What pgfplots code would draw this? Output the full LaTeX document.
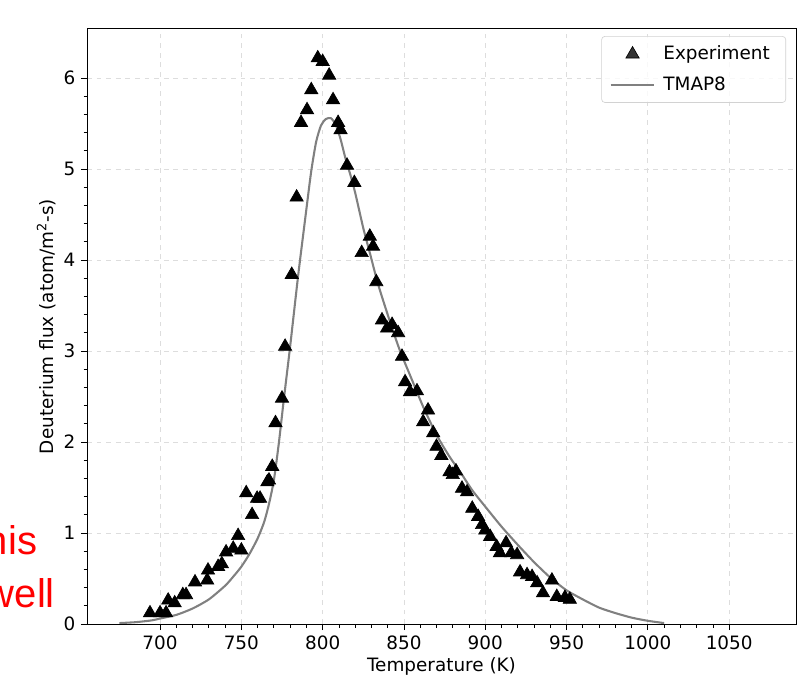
\documentclass[border=0pt]{standalone}
\usepackage{pgfplots}
\pgfplotsset{compat=1.18}
\usepackage{fontspec}
\setmainfont{DejaVu Sans}
\newfontfamily\arialfont{Liberation Sans}
\definecolor{gridgray}{HTML}{DDDDDD}
\definecolor{curvegray}{HTML}{808080}
\begin{document}
\begin{tikzpicture}
\path[use as bounding box] (0,0) rectangle (501.25pt,428.1pt);
\node[anchor=base west, inner sep=0, text=red, font=\arialfont\fontsize{25}{28}\selectfont] at (-9pt,81.25pt) {his};
\node[anchor=base west, inner sep=0, text=red, font=\arialfont\fontsize{25}{28}\selectfont] at (-9pt,48.1pt) {well};
\begin{axis}[
  at={(54.4pt,38.1pt)}, anchor=south west,
  width=443.1pt, height=371.9pt, scale only axis,
  xmin=655.1, xmax=1091.1, ymin=0, ymax=6.54,
  xtick={700,750,...,1050}, ytick={0,1,...,6},
  minor x tick num=4, minor y tick num=4,
  tick align=outside, tick pos=left,
  major tick length=3.8pt, minor tick length=2.2pt,
  every tick/.style={black, line width=0.5pt},
  grid=major,
  major grid style={gridgray, dashed, line width=0.5pt},
  axis line style={black, line width=0.6pt},
  tick label style={font=\fontsize{11.5}{13}\selectfont},
  /pgf/number format/assume math mode=true,
  /pgf/number format/1000 sep={},
  scaled y ticks=false,
  xlabel={Temperature (K)},
  ylabel={Deuterium flux (atom/m\textsuperscript{2}-s)},
  label style={font=\fontsize{11.5}{13}\selectfont},
  xlabel style={yshift=2pt},
  ylabel style={yshift=-2pt},
  legend style={at={(rel axis cs:0.986,0.988)}, anchor=north east,
    draw=gray!35, rounded corners=2pt, fill=white, fill opacity=0.8, text opacity=1,
    font=\fontsize{11.5}{13}\selectfont, row sep=5pt, inner xsep=5pt, inner ysep=4pt,
    nodes={inner xsep=5pt}},
  legend cell align=left,
]
\addplot[only marks, mark=triangle*, mark size=4.8pt, black,
  legend image code/.code={\draw[mark repeat=2,mark phase=2] plot coordinates {(0cm,0cm) (0.48cm,0cm) (0.96cm,0cm)};}]
coordinates {
(693.8,0.12) (700,0.12) (703.7,0.12) (705,0.26) (709,0.23) (714,0.32) (716,0.32)
(721.5,0.46) (729,0.48) (729.5,0.59) (735.7,0.63) (738,0.66) (740.6,0.79) (745,0.83)
(748,0.97) (750,0.81) (753,1.44) (756.6,1.20) (759.7,1.38) (761.5,1.38)
(766,1.56) (767,1.58) (769,1.73) (771,2.21) (775,2.48) (776.9,3.05)
(781,3.84) (784,4.69) (786.7,5.51) (790.4,5.65) (793,5.87) (797,6.22) (800,6.18)
(804,6.03) (806.4,5.76) (809.5,5.51) (811,5.43) (815,5.04) (819.5,4.85)
(824,4.08) (829,4.26) (831,4.15) (833,3.76) (836.5,3.34) (839.6,3.25) (842.7,3.29)
(846.4,3.20) (848.8,2.94) (850.7,2.66) (853.7,2.55) (858,2.56) (861.8,2.22)
(864.8,2.35) (868,2.10) (870,1.95) (873,1.85) (878,1.67) (880,1.64) (882,1.68)
(885.7,1.49) (888.8,1.45) (892,1.27) (895.6,1.18) (898,1.09) (900,1.03)
(903,0.96) (907,0.85) (909,0.78) (912.8,0.89) (916,0.78) (919.6,0.76) (921.4,0.57)
(925.7,0.54) (928.8,0.52) (931.9,0.45) (935.5,0.34) (941,0.48) (944,0.30)
(949,0.29) (952,0.27)
};
\addlegendentry{Experiment}
\addplot[curvegray, line width=1.3pt, smooth, tension=0.4,
  legend image code/.code={\draw[curvegray, line width=1.3pt] (0cm,0cm) -- (0.96cm,0cm);}]
coordinates {
(675,0.01) (685,0.02) (695,0.04) (700,0.06) (710,0.10) (720,0.17) (730,0.27)
(740,0.42) (745,0.52) (750,0.63) (755,0.77) (760,0.94) (764,1.12) (767,1.32)
(770,1.58) (773,1.98) (776,2.45) (780,3.05) (785,3.84) (790,4.56) (793,4.98)
(796,5.30) (799,5.48) (802,5.55) (805,5.56) (808,5.49) (811,5.33) (814,5.12)
(817,4.94) (820,4.74) (825,4.35) (829,4.08) (834,3.74) (840,3.40) (847,3.03)
(855,2.68) (862,2.38) (870,2.08) (878,1.84) (885,1.66) (892,1.47) (900,1.29)
(910,1.07) (920,0.87) (930,0.68) (940,0.51) (950,0.37) (960,0.27) (970,0.18)
(980,0.12) (990,0.07) (1000,0.035) (1010,0.01)
};
\addlegendentry{TMAP8}
\node[anchor=south west, inner sep=1pt, font=\fontsize{11.5}{13}\selectfont] at (rel axis cs:0,1) {1e16};
\end{axis}
\end{tikzpicture}
\end{document}
